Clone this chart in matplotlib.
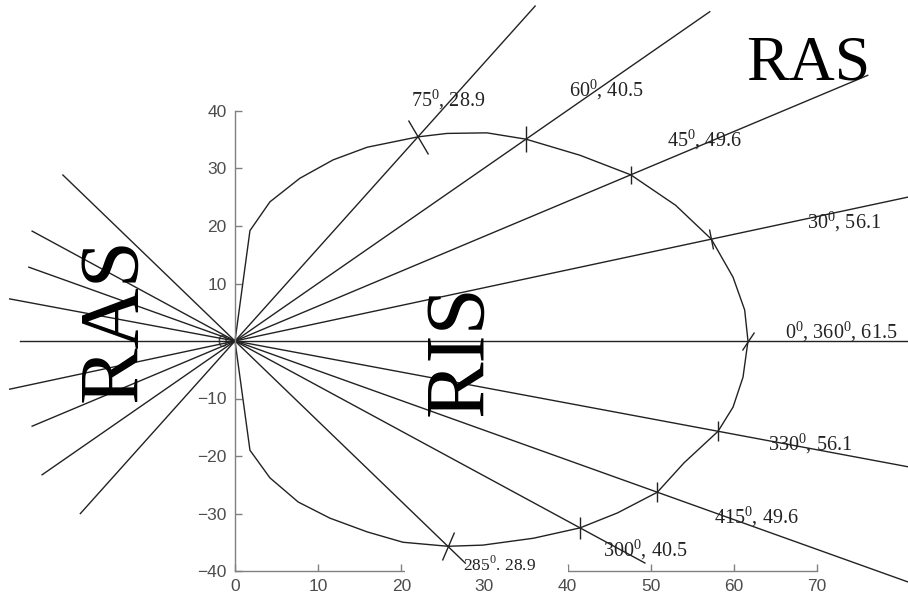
import numpy as np
import matplotlib.pyplot as plt
from matplotlib.markers import MarkerStyle
from matplotlib.transforms import Affine2D
from matplotlib.patches import Rectangle

plt.rcParams['mathtext.fontset'] = 'custom'
plt.rcParams['mathtext.rm'] = 'Liberation Serif'

# closed curve, starts and ends at the origin
curve_x = [0, 1.8, 4.2, 7.8, 11.8, 15.9, 22.0, 25.5, 30.3, 35.0, 41.5, 47.6, 53.0, 57.3, 59.9, 61.3, 61.7,
           61.1, 59.9, 58.1, 54.0, 50.8, 46.0, 41.5, 35.9, 29.8, 25.6, 20.2, 15.9, 11.4, 7.6, 4.2, 1.8, 0]
curve_y = [0, 19.2, 24.2, 28.3, 31.5, 33.7, 35.5, 36.1, 36.2, 35.1, 32.3, 28.9, 23.6, 17.7, 11.1, 5.4, 0,
           -6.3, -11.5, -15.7, -21.2, -26.3, -29.9, -32.5, -34.3, -35.5, -35.7, -35.0, -33.2, -30.8, -28.0, -23.8, -19.0, 0]

# marked points where the rays cross the curve
pt_x = [22.0, 35.0, 47.6, 57.25, 61.7, 58.1, 50.8, 41.5, 25.6]
pt_y = [35.5, 35.1, 28.9, 17.7, 0.0, -15.7, -26.3, -32.5, -35.7]
pt_labels = [r'75$^{0}$, 28.9', r'60$^{0}$, 40.5', r'45$^{0}$, 49.6', r'30$^{0}$, 56.1',
             r'0$^{0}$, 360$^{0}$, 61.5', r'330$^{0}$, 56.1', r'415$^{0}$, 49.6',
             r'300$^{0}$, 40.5', r'285$^{0}$. 28.9']
# how far each ray runs (x of right end, x of left end)
ray_right_x = [36.1, 57.1, 76.1, 80.9, 81.0, 80.9, 80.9, 49.3, 27.7]
ray_left_x = [-18.6, -23.2, -24.4, -27.1, -25.9, -27.1, -24.8, -24.4, -20.7]

# label positions (data units) and cross-mark style
lab_x = [21.2, 40.2, 52.0, 68.8, 66.2, 64.1, 57.6, 44.3, 27.4]
lab_y = [41.9, 43.7, 35.0, 20.7, 1.6, -17.9, -30.6, -36.2, -39.0]
lab_size = [14.5, 14.5, 14.5, 14.5, 14.5, 14.5, 14.5, 14.5, 12.5]
mark_angle = [120, 90, 90, 100, 56, 90, 90, 90, 67]
mark_size = [28, 19, 13, 15, 16, 14, 15, 16, 22]

fig = plt.figure(figsize=(9.08, 6), dpi=100)
ax = fig.add_axes([235/908, 29/600, 582/908, 460/600])
ax.set_xlim(0, 70)
ax.set_ylim(-40, 40)

ink = '#222222'
ax.plot(curve_x, curve_y, color=ink, lw=1.0, clip_on=False)

for i in range(len(pt_x)):
    k = pt_y[i] / pt_x[i]
    xs = [ray_left_x[i], ray_right_x[i]]
    ax.plot(xs, [k * xs[0], k * xs[1]], color=ink, lw=1.0, clip_on=False)
    m = MarkerStyle('|', transform=Affine2D().rotate_deg(mark_angle[i] - 90))
    ax.plot(pt_x[i], pt_y[i], marker=m, ms=mark_size[i], mew=1.0, color=ink, clip_on=False)
    ax.text(lab_x[i], lab_y[i], pt_labels[i], fontsize=lab_size[i], family='Liberation Serif',
            color='#222222', ha='left', va='center', zorder=5, clip_on=False)

# white patch hiding part of the x axis under the labels
ax.add_patch(Rectangle((20.45, -40.8), 19.6, 1.7, facecolor='white', edgecolor='none',
                       zorder=3, clip_on=False))

for s in ['top', 'right']:
    ax.spines[s].set_visible(False)
for s in ['left', 'bottom']:
    ax.spines[s].set_color('#808080')
    ax.spines[s].set_linewidth(1.0)
ax.set_xticks(np.arange(0, 71, 10))
ax.set_yticks(np.arange(-40, 41, 10))
ax.tick_params(direction='in', length=5, width=1.0, color='#808080',
               labelsize=12.5, labelcolor='#4d4d4d', pad=6)
for t in ax.get_xticklabels() + ax.get_yticklabels():
    t.set_family('Liberation Sans')
ax.patch.set_alpha(0)

fig.text(808/908, 1 - 65/600, 'RAS', fontsize=46, family='Liberation Serif',
         ha='center', va='center', color='black')
fig.text(116/908, 1 - 320/600, 'RAS', fontsize=61, family='Liberation Serif',
         ha='center', va='center', rotation=90, color='black')
fig.text(462/908, 1 - 350/600, 'RIS', fontsize=61, family='Liberation Serif',
         ha='center', va='center', rotation=90, color='black')

fig.savefig('out.png', dpi=100)
